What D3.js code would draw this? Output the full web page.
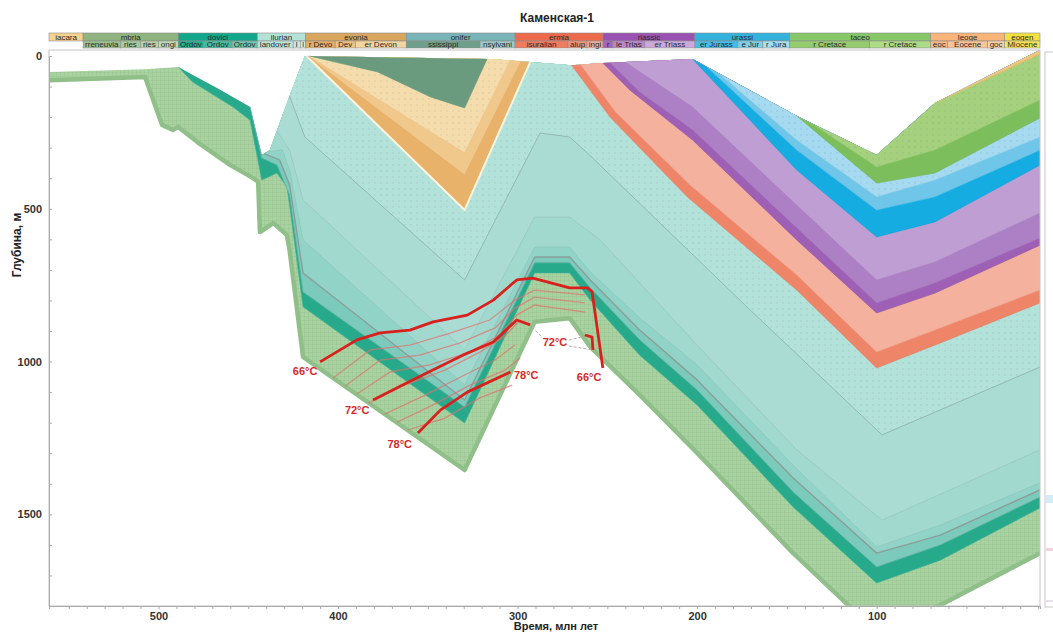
<!DOCTYPE html>
<html>
<head>
<meta charset="utf-8">
<script src="https://cdn.jsdelivr.net/npm/d3@7"></script>
<style>
  body { margin: 0; background: #fff; }
  svg text { font-family: "Liberation Sans", Arial, sans-serif; }
</style>
</head>
<body>
<svg id="chart" width="1053" height="632"></svg>
<script>

// time scale header, ages in Ma (as drawn in the header)
const periods = ['Ediacaran', 'Cambrian', 'Ordovician', 'Silurian', 'Devonian', 'Carboniferous',
    'Permian', 'Triassic', 'Jurassic', 'Cretaceous', 'Paleogene', 'Neogene'];
const periodFrom = [561, 542, 489, 445, 418, 362, 301.4, 252.4, 201.2, 148.4, 69.9, 28.7];
const periodTo = [542, 489, 445, 418, 362, 301.4, 252.4, 201.2, 148.4, 69.9, 28.7, 9];

const epochs = ['Terreneuvian', 'Series 2', 'Series 3', 'Furongian',
    'Early Ordovician', 'Middle Ordovician', 'Late Ordovician',
    'Llandovery', 'Wenlock', 'Ludlow',
    'Lower Devonian', 'Middle Devonian', 'Upper Devonian',
    'Mississippian', 'Pennsylvanian',
    'Cisuralian', 'Guadalupian', 'Lopingian',
    'Lower Triassic', 'Middle Triassic', 'Upper Triassic',
    'Lower Jurassic', 'Middle Jurassic', 'Upper Jurassic',
    'Lower Cretaceous', 'Upper Cretaceous',
    'Paleocene', 'Eocene', 'Oligocene', 'Miocene'];
const epochFrom = [542, 521.2, 510.1, 500.1, 489, 475, 459, 445, 425, 421, 418, 401.6, 390.4,
    362, 320.9, 301.4, 271.9, 261.3, 252.4, 246.9, 229.1, 201.2, 177.3, 163.4, 148.4, 103.9,
    69.9, 60.4, 38.2, 28.7];
const epochTo = [521.2, 510.1, 500.1, 489, 475, 459, 445, 425, 421, 418, 401.6, 390.4, 362,
    320.9, 301.4, 271.9, 261.3, 252.4, 246.9, 229.1, 201.2, 177.3, 163.4, 148.4, 103.9, 69.9,
    60.4, 38.2, 28.7, 9];

// burial history: every horizon is a list of [age Ma, depth m]
const topSurface = [[561, 52], [507.5, 43], [489, 36], [481, 62], [467.5, 105], [449, 167],
    [442.5, 324], [438, 308], [427, 131], [418.5, 0], [315.5, 10], [293, 20], [270, 30],
    [252.5, 23], [202.5, 10], [144.5, 196], [100, 324], [67.5, 154], [9, -20]];

const baseGreen = [[561, 79], [507.5, 69], [498, 226], [492, 242], [489, 232], [478.5, 281],
    [460, 357], [447.5, 399], [444.5, 412], [443.5, 576], [436, 547], [428.5, 586], [427, 635],
    [419.5, 985], [329.5, 1355], [290.5, 870], [271, 858], [259.5, 952], [232, 1109],
    [200, 1299], [146.5, 1627], [100, 1885], [64.5, 1797], [9, 1627]];
const topGreen = [[489, 36], [481, 85], [458.5, 167], [449, 210], [442.5, 406], [434, 383],
    [428.5, 429], [427, 488], [419.5, 821], [329.5, 1201], [290.5, 710], [271, 710],
    [259.5, 799], [232, 979], [200, 1142], [146.5, 1476], [100, 1725], [64.5, 1650], [9, 1479]];
const topDarkTeal = [[449, 167], [442.5, 334], [434, 357], [427, 455], [419.5, 772],
    [329.5, 1149], [290.5, 677], [271, 677], [259.5, 759], [232, 929], [200, 1093],
    [146.5, 1427], [100, 1672], [64.5, 1600], [9, 1443]];
const grayHorizon = [[441, 320], [432.5, 340], [427, 422], [419.5, 710], [329.5, 1126],
    [290.5, 658], [271, 658], [259.5, 733], [232, 897], [200, 1060], [146.5, 1381],
    [100, 1627], [64.5, 1568], [9, 1420]];
const topMidTeal = [[439.5, 314], [431, 307], [427, 373], [419.5, 602], [329.5, 1077],
    [290.5, 625], [271, 625], [259.5, 707], [232, 857], [200, 1011], [146.5, 1339],
    [100, 1607], [64.5, 1535], [9, 1397]];
const topLightTeal = [[434, 246], [427, 308], [419.5, 471], [329.5, 962], [290.5, 527],
    [271, 527], [254, 602], [200, 946], [144.5, 1289], [97, 1519], [9, 1289]];
const dottedBase = [[427, 131], [418.5, 265], [329.5, 733], [287.5, 252], [271, 265],
    [261, 318], [170.5, 831], [97, 1240], [9, 1018]];

const devOrange = [[417.5, 0], [329.5, 504], [293, 20]];
const devTan = [[417, 0], [329.5, 389], [298, 16]];
const devLight = [[416.5, 0], [329.5, 317], [304, 13]];
const carbBase = [[416, 0], [378, 52], [348.5, 134], [329.5, 170], [317, 10]];

const permBase = [[270, 29.5], [248.5, 200], [205.5, 461], [144.5, 766], [100, 1021],
    [64.5, 939], [9, 808]];
const permMid = [[265, 28], [245.5, 183], [204, 422], [144.5, 717], [100, 969], [64.5, 890],
    [9, 766]];
const triasBase = [[252.5, 23], [237.5, 111], [202.5, 275], [144.5, 602], [100, 841],
    [67.5, 776], [9, 619]];
const triasMid = [[248.5, 22], [232, 118], [202.5, 242], [144.5, 563], [100, 808],
    [67.5, 743], [9, 596]];
const triasUpper = [[240, 20], [202.5, 167], [144.5, 488], [100, 733], [67.5, 674], [9, 514]];
const jurBase = [[202.5, 10], [144.5, 373], [100, 592], [67.5, 543], [9, 357]];
const jurMid = [[194.5, 36], [144.5, 308], [100, 504], [67.5, 461], [9, 308]];
const jurUpper = [[187.5, 59], [144.5, 275], [100, 461], [67.5, 406], [9, 265]];
const cretBase = [[144.5, 196], [100, 416], [67.5, 383], [9, 203]];
const cretUpper = [[136, 222], [100, 363], [67.5, 308], [9, 144]];
const paleoBase = [[67.5, 154], [9, -7]];

// isotherms
const iso66 = [[410, 1001], [389.5, 929], [376.5, 906], [360, 897], [347, 870], [328, 848],
    [313.5, 799], [300.5, 733], [291.5, 727], [271, 759], [261, 759], [258.5, 772], [252.5, 1021]];
const iso72 = [[380.5, 1126], [358.5, 1060], [330.5, 979], [313.5, 936], [300.5, 864], [293, 880]];
const iso72b = [[262.5, 913], [258.5, 920], [258, 962]];
const iso78 = [[355.5, 1234], [343, 1159], [328, 1100], [304, 1034]];
const isoThin = [
    [[402.8, 1054], [382, 962], [360, 946], [337.5, 907], [315.5, 864], [301.5, 799], [290.5, 766], [262.5, 782]],
    [[396, 1080], [376.5, 995], [354.5, 979], [332, 939], [312.5, 890], [301.5, 825], [290.5, 789], [262.5, 808]],
    [[389.5, 1106], [371, 1034], [349, 1011], [326.5, 969], [310, 913], [300.5, 848], [290.5, 815], [262.5, 838]],
    [[383, 1136], [365.5, 1083], [340.5, 1028], [321, 969], [307, 916], [298.5, 864]],
    [[374, 1172], [351.5, 1110], [329.5, 1044], [312.5, 995], [301.5, 946]],
    [[367, 1198], [347, 1142], [326.5, 1077], [307, 1028], [298.5, 988]],
    [[361, 1224], [340.5, 1185], [321, 1119], [303, 1077]]
];
const isoLabels = ['66°C', '72°C', '78°C', '78°C', '72°C', '66°C'];
const isoLabelAt = [[411.5, 1044], [382.5, 1172], [358.8, 1283], [302, 1057], [286, 949], [267, 1064]];
const leaders = [[[292, 887], [286.5, 920]], [[271.5, 930], [261.9, 916]], [[271.5, 949], [258.5, 962]]];


const svg = d3.select('#chart');

const x = d3.scaleLinear().domain([561, 9]).range([49, 1040]);
const y = d3.scaleLinear().domain([0, 1800]).range([56, 606]);

const line = d3.line().x(d => x(d[0])).y(d => y(d[1]));

const defs = svg.append('defs');

defs.append('clipPath').attr('id', 'plot-clip')
    .append('rect')
    .attr('x', x(561)).attr('y', 47)
    .attr('width', x(9) - x(561)).attr('height', y(1800) - 47);

let dots = defs.append('pattern')
    .attr('id', 'dots')
    .attr('width', 6).attr('height', 6)
    .attr('patternUnits', 'userSpaceOnUse');
dots.append('rect')
    .attr('x', 2.5).attr('y', 2).attr('width', 0.9).attr('height', 1.8)
    .attr('fill', '#000').attr('fill-opacity', 0.1);

let grid = defs.append('pattern')
    .attr('id', 'grid')
    .attr('width', 4).attr('height', 4)
    .attr('patternUnits', 'userSpaceOnUse');
grid.append('path')
    .attr('d', 'M0,0.5H4M0.5,0V4')
    .attr('stroke', '#000').attr('stroke-opacity', 0.05).attr('stroke-width', 0.7);


// region between a horizon and the top surface
function region_above (h) {

    let t0 = h[0][0],
        t1 = h[h.length - 1][0],
        top = topSurface.filter(p => p[0] <= t0 && p[0] >= t1);

    return line(h.concat(top.reverse())) + 'Z';

}

const layers = [
    { h: baseGreen, fill: '#a8d3a0', stroke: '#90bf89', sw: 4.5, pat: 'grid' },
    { h: topGreen, fill: '#27aa8c', stroke: '#3fb096', sw: 0.6 },
    { h: topDarkTeal, fill: '#7ccabc', stroke: '#5fb3a3', sw: 0.8 },
    { h: grayHorizon, fill: '#92d3c7', stroke: '#8a9f9a', sw: 1.4 },
    { h: topMidTeal, fill: '#a1d9cf', stroke: '#8fc6bc', sw: 0.8 },
    { h: topLightTeal, fill: '#aadcd4', stroke: '#98c8c0', sw: 0.8 },
    { h: dottedBase, fill: '#b3e2da', stroke: '#93b9b2', sw: 1, pat: 'dots' },
    { h: devOrange, fill: '#e8b26a', stroke: '#fbf4de', sw: 2 },
    { h: devTan, fill: '#f0c88c', stroke: '#e4b470', sw: 0.6 },
    { h: devLight, fill: '#f5dcac', stroke: '#eec48a', sw: 0.6, pat: 'dots' },
    { h: carbBase, fill: '#6b9b7e', stroke: '#6b9b7e', sw: 0.6 },
    { h: permBase, fill: '#ee8568', stroke: '#e27d63', sw: 0.6 },
    { h: permMid, fill: '#f4b19e', stroke: '#ef9c86', sw: 0.6 },
    { h: triasBase, fill: '#9d60b5', stroke: '#9156aa', sw: 0.6 },
    { h: triasMid, fill: '#ad80c5', stroke: '#a06fba', sw: 0.6 },
    { h: triasUpper, fill: '#bf9fd3', stroke: '#ad86c4', sw: 0.6 },
    { h: jurBase, fill: '#15ace1', stroke: '#14a2d6', sw: 0.6 },
    { h: jurMid, fill: '#70c6e8', stroke: '#5bbde2', sw: 0.6 },
    { h: jurUpper, fill: '#a5daf0', stroke: '#8fd0ea', sw: 0.6, pat: 'dots' },
    { h: cretBase, fill: '#7cbe5b', stroke: '#72b552', sw: 0.6 },
    { h: cretUpper, fill: '#a5d17f', stroke: '#8dc46a', sw: 0.6, pat: 'dots' },
    { h: paleoBase, fill: '#f6c27e', stroke: '#f0b868', sw: 0.6 }
];

let plot = svg.append('g').attr('clip-path', 'url(#plot-clip)');

layers.forEach(function (l) {

    plot.append('path')
        .attr('d', region_above(l.h))
        .attr('fill', l.fill);

    if (l.pat) {
        plot.append('path')
            .attr('d', region_above(l.h))
            .attr('fill', 'url(#' + l.pat + ')');
    }

    plot.append('path')
        .attr('d', line(l.h))
        .attr('fill', 'none')
        .attr('stroke', l.stroke)
        .attr('stroke-width', l.sw)
        .attr('stroke-linejoin', 'round');

});

// isotherms
let iso = plot.append('g');

iso.selectAll('.thin')
    .data(isoThin)
    .enter()
    .append('path')
    .attr('d', line)
    .attr('fill', 'none')
    .attr('stroke', '#e2706c')
    .attr('stroke-opacity', 0.7)
    .attr('stroke-width', 1.3);

iso.selectAll('.leader')
    .data(leaders)
    .enter()
    .append('path')
    .attr('d', line)
    .attr('stroke', '#b9a9ad')
    .attr('stroke-width', 1)
    .attr('stroke-dasharray', '3,2');

iso.selectAll('.thick')
    .data([iso66, iso72, iso72b, iso78])
    .enter()
    .append('path')
    .attr('d', line)
    .attr('fill', 'none')
    .attr('stroke', '#d8211d')
    .attr('stroke-width', 2.8)
    .attr('stroke-linejoin', 'round');

svg.append('g')
    .selectAll('text')
    .data(isoLabels)
    .enter()
    .append('text')
    .attr('x', (d, i) => x(isoLabelAt[i][0]))
    .attr('y', (d, i) => y(isoLabelAt[i][1]))
    .attr('text-anchor', (d, i) => i < 3 ? 'end' : 'start')
    .attr('font-size', 11)
    .attr('font-weight', 'bold')
    .attr('fill', '#d42a2a')
    .text(d => d);


// frame and axes
svg.append('rect')
    .attr('x', x(561)).attr('y', 50)
    .attr('width', x(9) - x(561)).attr('height', y(1800) - 50)
    .attr('fill', 'none')
    .attr('stroke', '#c4c4c4');

// cut-off panel at the right edge
svg.append('rect')
    .attr('x', 1045).attr('y', 52)
    .attr('width', 30).attr('height', 555)
    .attr('fill', 'none')
    .attr('stroke', '#c8c8c8');
[[495, 503, '#d4ecf3'], [548, 551, '#f3d3de'], [600, 602, '#e6dff0']].forEach(function (b) {
    svg.append('rect')
        .attr('x', 1046).attr('y', b[0])
        .attr('width', 8).attr('height', b[1] - b[0])
        .attr('fill', b[2]);
});

let yAxis = svg.append('g')
    .attr('transform', 'translate(' + x(561) + ',0)')
    .call(d3.axisLeft(y)
        .tickValues(d3.range(0, 1801, 100))
        .tickSize(-3)
        .tickPadding(7)
        .tickFormat(d => d % 500 === 0 ? d : ''));

let xAxis = svg.append('g')
    .attr('transform', 'translate(0,' + y(1800) + ')')
    .call(d3.axisBottom(x)
        .tickValues(d3.range(550, 9, -10))
        .tickSize(3)
        .tickPadding(3)
        .tickFormat(d => d % 100 === 0 ? d : ''));

[yAxis, xAxis].forEach(function (a) {
    a.select('.domain').attr('stroke', '#a9a9a9');
    a.selectAll('.tick line').attr('stroke', '#a9a9a9');
    a.selectAll('.tick text')
        .attr('font-size', 11)
        .attr('font-weight', 'bold')
        .attr('fill', '#333')
        .style('font-family', '"Liberation Sans", Arial, sans-serif');
});

svg.append('text')
    .attr('x', 557).attr('y', 22)
    .attr('text-anchor', 'middle')
    .attr('font-size', 12)
    .attr('font-weight', 'bold')
    .attr('fill', '#222')
    .text('Каменская-1');

svg.append('text')
    .attr('transform', 'translate(21,245) rotate(-90)')
    .attr('text-anchor', 'middle')
    .attr('font-size', 12)
    .attr('font-weight', 'bold')
    .attr('fill', '#222')
    .text('Глубина, м');

svg.append('text')
    .attr('x', 556).attr('y', 630)
    .attr('text-anchor', 'middle')
    .attr('font-size', 11)
    .attr('font-weight', 'bold')
    .attr('fill', '#222')
    .text('Время, млн лет');


// header with periods and epochs
const periodColors = ['#f8d28c', '#8fb47f', '#12a68b', '#b5e2d6', '#d9a65e', '#79b4b8',
    '#ee6a4d', '#9a52b2', '#33b3dc', '#86c767', '#f9b47a', '#f4e23c'];
const epochColors = ['#9cc08c', '#a9c99a', '#b5d2a7', '#c1dab4', '#23ad8f', '#47bb9f',
    '#6cc7b0', '#bde6dc', '#c8eae1', '#d3eee7', '#e5ad66', '#eec384', '#f3d5a2', '#6f9f8a',
    '#9cc9c8', '#ef7b60', '#f39378', '#f6ab94', '#a563bb', '#b987cb', '#cca9da', '#46bde5',
    '#7fcfec', '#a6def2', '#95cc6e', '#addb86', '#fab985', '#fbc597', '#fcd2aa', '#f7e754'];

// the header shows only the middle of each name, cut to the cell
function fit_text (sel, full, w) {

    let s = full,
        n = 0;

    sel.text(s);

    while (s.length > 1 && sel.node().getComputedTextLength() > w) {
        s = n % 2 === 0 ? s.slice(1) : s.slice(0, -1);
        n++;
        sel.text(s);
    }

    if (sel.node().getComputedTextLength() > w) sel.text('');

}

function header_row (names, from, to, colors, top, h, maxw) {

    let g = svg.append('g');

    names.forEach(function (name, i) {

        let x0 = x(from[i]),
            x1 = x(to[i]),
            w = x1 - x0;

        g.append('rect')
            .attr('x', x0).attr('y', top)
            .attr('width', w).attr('height', h)
            .attr('fill', colors[i])
            .attr('stroke', '#8c8c8c')
            .attr('stroke-width', 0.6);

        let t = g.append('text')
            .attr('x', x0 + w / 2)
            .attr('y', top + h / 2)
            .attr('dy', '0.35em')
            .attr('text-anchor', 'middle')
            .attr('font-size', 8)
            .attr('fill', '#2a2a2a');

        fit_text(t, name, Math.min(w - 3, maxw));

    });

}

header_row(periods, periodFrom, periodTo, periodColors, 33, 8, 24);
header_row(epochs, epochFrom, epochTo, epochColors, 41, 7, 34);

</script>
</body>
</html>
